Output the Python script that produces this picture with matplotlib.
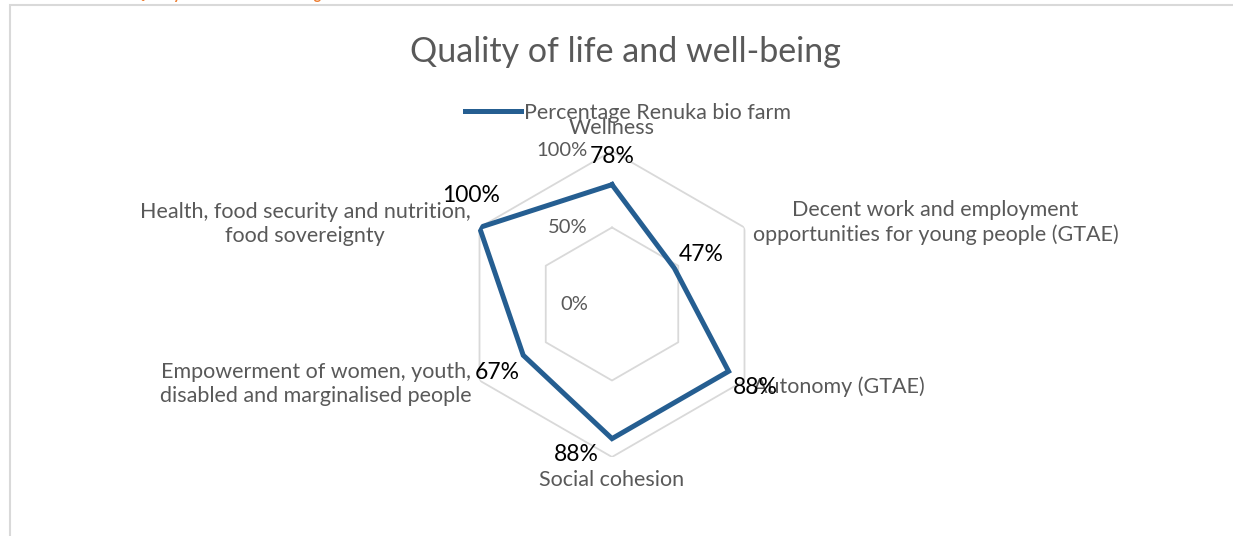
import numpy as np
import matplotlib.pyplot as plt
from matplotlib.patches import Rectangle

plt.rcParams['font.family'] = ['Lato', 'DejaVu Sans']

categories = [
    'Wellness',
    'Decent work and employment\nopportunities for young people (GTAE)',
    'Autonomy (GTAE)',
    'Social cohesion',
    'Empowerment of women, youth,\ndisabled and marginalised people',
    'Health, food security and nutrition,\nfood sovereignty',
]
values = [0.78, 0.47, 0.88, 0.88, 0.67, 1.00]
series_name = 'Percentage Renuka bio farm'
grid_levels = [0.0, 0.5, 1.0]
grid_labels = ['0%', '50%', '100%']

# label placement (offset pixels from the 100% vertex / data point)
cat_offsets = [(0, 23, 'center'), (8, 5, 'left'), (8, -6, 'left'),
               (0, -23, 'center'), (-8, -3, 'right'), (-9, 3, 'right')]
val_offsets = [(0, 28), (27, 14), (27, -16), (-36, -16), (-26, -17), (-8, 32)]

W, H = 1233, 536
fig = plt.figure(figsize=(W / 100, H / 100), dpi=100)

# chart frame and cut-off heading of the page
fig.patches.append(Rectangle((10 / W, -0.1), 1.2, (H - 5) / H + 0.1, transform=fig.transFigure,
                             fill=False, edgecolor='#D9D9D9', lw=1.5))
fig.text(133 / W, 1.0 + 1.5 / H, 'Quality of life and well-being', color='#ED7D31',
         fontsize=10.5, fontweight='bold', va='baseline')

cx, cy, R = 612, 304, 153
ax = fig.add_axes([(cx - R) / W, (H - cy - R) / H, 2 * R / W, 2 * R / H], projection='polar')
ax.set_theta_zero_location('N')
ax.set_theta_direction(-1)
ax.set_ylim(0, 1)
ax.grid(False)
ax.set_xticks([])
ax.set_yticks([])
ax.spines['polar'].set_visible(False)
ax.patch.set_alpha(0)

n = len(categories)
theta = np.arange(n) * 2 * np.pi / n
theta_c = np.append(theta, theta[0])

for lev in grid_levels[1:]:
    ax.plot(theta_c, [lev] * (n + 1), color='#D9D9D9', lw=1.3, zorder=1)

vals_c = np.append(values, values[0])
line, = ax.plot(theta_c, vals_c, color='#255E91', lw=3.6, solid_joinstyle='miter', zorder=3,
                label=series_name)

for t, lab, (dx, dy, ha) in zip(theta, categories, cat_offsets):
    ax.annotate(lab, xy=(t, 1.0), xytext=(dx, dy), textcoords='offset pixels',
                ha=ha, va='center', multialignment='center', fontsize=15.5,
                color='#595959', annotation_clip=False, linespacing=1.25)

for t, v, (dx, dy) in zip(theta, values, val_offsets):
    ax.annotate(f'{v:.0%}', xy=(t, v), xytext=(dx, dy), textcoords='offset pixels',
                ha='center', va='center', fontsize=16.5, color='black',
                annotation_clip=False, zorder=4)

for lev, lab in zip(grid_levels, grid_labels):
    ax.annotate(lab, xy=(0, lev), xytext=(-24, 0), textcoords='offset pixels',
                ha='right', va='center', fontsize=14.5, color='#595959',
                annotation_clip=False)

fig.text(625 / W, 1 - 52 / H, 'Quality of life and well-being', ha='center', va='center',
         fontsize=24.5, color='#595959')

fig.legend(handles=[line], loc='center', bbox_to_anchor=(628 / W, 1 - 113 / H),
           frameon=False, fontsize=15.5, labelcolor='#595959', handlelength=2.6,
           handletextpad=0.1, borderaxespad=0)

fig.savefig('out.png', dpi=100)
